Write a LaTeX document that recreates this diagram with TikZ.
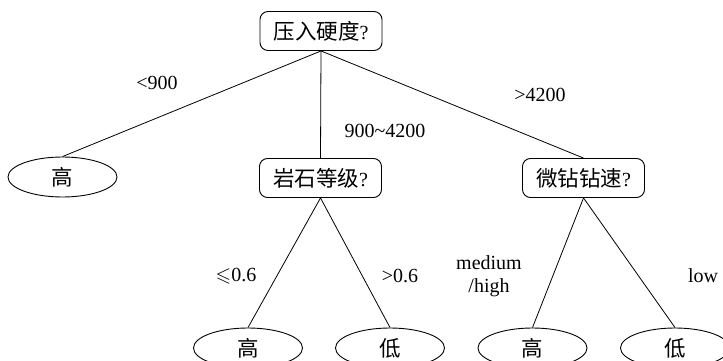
\documentclass[tikz,border=0pt]{standalone}
\usepackage{amssymb}
\usepackage{fontspec}
\setmainfont{Liberation Serif}
\newfontfamily\cjkfam{Noto Sans CJK SC}
\newcommand\cjk{\cjkfam\fontsize{21.5}{24}\selectfont}
\usetikzlibrary{shapes.geometric}
\begin{document}
\begin{tikzpicture}[x=1pt,y=-1pt,
  every node/.style={font=\fontsize{20}{23}\selectfont},
  qbox/.style={draw,line width=0.9pt,rounded corners=8pt,minimum width=122pt,minimum height=39pt,inner sep=0pt},
  leaf/.style={draw,line width=0.9pt,ellipse,minimum width=109pt,minimum height=40pt,inner sep=0pt},
  lbl/.style={inner sep=0pt,align=center},
  conn/.style={line width=0.8pt}]
\useasboundingbox (0,0) rectangle (723,361);
\node[qbox] (root) at (321,31) {{\cjk 压入硬度}?};
\node[leaf] (l1) at (62.5,177) {\cjk 高};
\node[qbox] (mid) at (320.5,178) {{\cjk 岩石等级}?};
\node[qbox] (right) at (583.5,178) {{\cjk 微钻钻速}?};
\node[leaf] (b1) at (248,348) {\cjk 高};
\node[leaf] (b2) at (390,348) {\cjk 低};
\node[leaf] (b3) at (532.5,348) {\cjk 高};
\node[leaf] (b4) at (675,348) {\cjk 低};
\draw[conn] (root.south) -- (l1.north);
\draw[conn] (root.south) -- (mid.north);
\draw[conn] (root.south) -- (right.north);
\draw[conn] (mid.south) -- (b1.north);
\draw[conn] (mid.south) -- (b2.north);
\draw[conn] (right.south) -- (b3.north);
\draw[conn] (right.south) -- (b4.north);
\node[lbl] (t1) at (157,83) {<900};
\node[lbl] (t2) at (385,131) {900\textasciitilde4200};
\node[lbl] (t3) at (540,95) {>4200};
\node[lbl] (t4) at (236,276) {$\leqslant$0.6};
\node[lbl] (t5) at (400,276) {>0.6};
\node[lbl] (t6) at (489,276) {medium\\/high};
\node[lbl] (t7) at (703,276) {low};
\end{tikzpicture}
\end{document}
